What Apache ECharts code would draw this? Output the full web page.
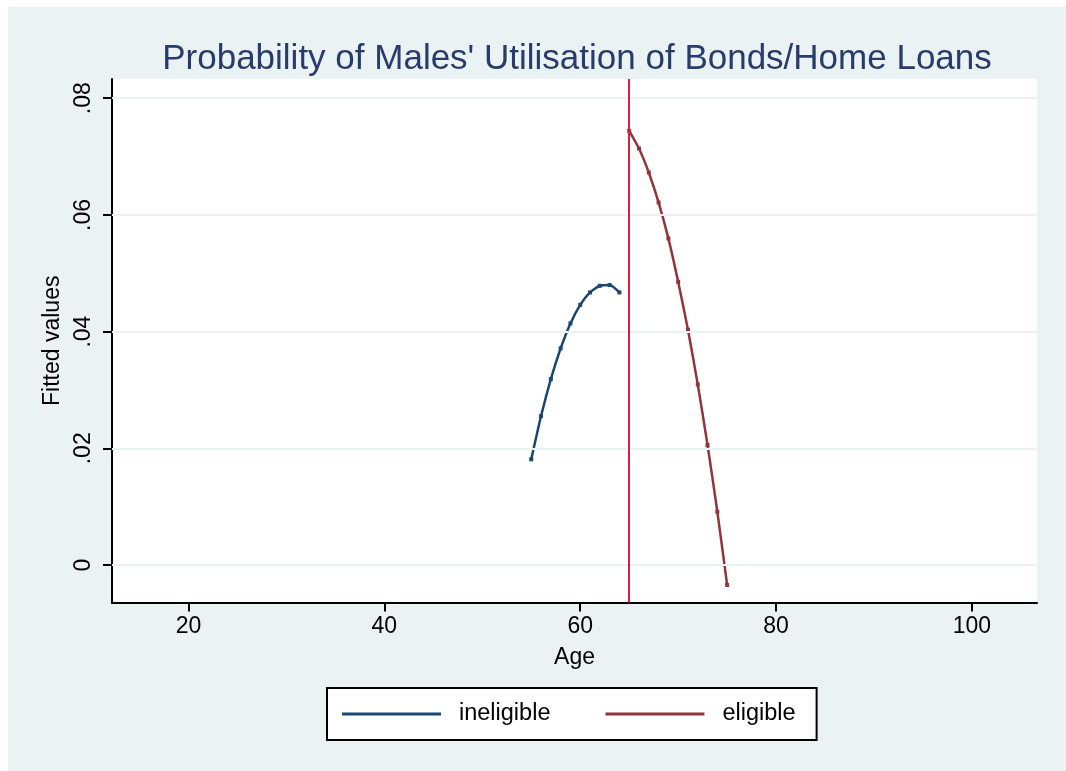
<!DOCTYPE html>
<html>
<head>
<meta charset="utf-8">
<script src="https://cdn.jsdelivr.net/npm/echarts@6/dist/echarts.min.js"></script>
<style>
html,body{margin:0;padding:0;background:#ffffff;}
#chart{width:1066px;height:771px;}
</style>
</head>
<body>
<div id="chart"></div>
<script>
const titleText = "Probability of Males' Utilisation of Bonds/Home Loans";
const ageIneligible = [55, 56, 57, 58, 59, 60, 61, 62, 63, 64];
const fitIneligible = [0.01811, 0.02552, 0.03186, 0.03712, 0.04140, 0.04459, 0.04671, 0.04785, 0.04797, 0.04671];
const ageEligible = [65, 66, 67, 68, 69, 70, 71, 72, 73, 74, 75];
const fitEligible = [0.07440, 0.07138, 0.06727, 0.06213, 0.05597, 0.04853, 0.04031, 0.03095, 0.02056, 0.00913, -0.00343];
const xTicks = [20, 40, 60, 80, 100];
const yTicks = [0, 0.02, 0.04, 0.06, 0.08];
const cutoffAge = 65;
const seriesNames = ['ineligible', 'eligible'];
const xRange = [12.19, 106.64];
const yRange = [-0.00643, 0.08329];

const FONT = '"Liberation Sans", Arial, Helvetica, sans-serif';
const chart = echarts.init(document.getElementById('chart'), null, {renderer: 'canvas'});

function fmtY(v) {
  if (Math.abs(v) < 1e-12) return '0';
  return String(+v.toFixed(4)).replace(/^0\./, '.').replace(/^-0\./, '-.');
}

const option = {
  animation: false,
  backgroundColor: '#ffffff',
  graphic: [{
    type: 'rect', z: -10, silent: true,
    shape: {x: 8, y: 7, width: 1058, height: 764},
    style: {fill: '#eaf2f3'}
  }, {
    type: 'rect', z: -9, silent: true,
    shape: {x: 112, y: 79, width: 925, height: 523.5},
    style: {fill: '#ffffff'}
  }],
  title: {
    text: titleText,
    left: 572, top: 37, textAlign: 'center',
    textStyle: {color: '#283c6b', fontFamily: FONT, fontSize: 35, fontWeight: 'normal'}
  },
  legend: {
    data: seriesNames,
    left: 327, top: 688,
    orient: 'horizontal',
    backgroundColor: '#ffffff',
    borderColor: '#000000', borderWidth: 2, borderRadius: 0,
    padding: [14, 21, 14, 15],
    itemGap: 55,
    itemWidth: 99, itemHeight: 3,
    icon: 'rect',
    textStyle: {fontFamily: FONT, fontSize: 23.5, color: '#000000', padding: [0, 0, 0, 13]}
  },
  grid: {left: 112, right: 29, top: 79, bottom: 168.5, containLabel: false},
  xAxis: {
    type: 'value', min: xRange[0], max: xRange[1],
    name: 'Age', nameLocation: 'middle', nameGap: 44,
    nameTextStyle: {fontFamily: FONT, fontSize: 23, color: '#000000'},
    axisLine: {show: true, onZero: false, lineStyle: {color: '#000000', width: 2}},
    axisTick: {show: true, customValues: xTicks, length: 9, lineStyle: {color: '#000000', width: 2}},
    axisLabel: {customValues: xTicks, margin: 13, fontFamily: FONT, fontSize: 23, color: '#000000'},
    splitLine: {show: false}
  },
  yAxis: {
    type: 'value', min: yRange[0], max: yRange[1],
    name: 'Fitted values', nameLocation: 'middle', nameGap: 48, nameRotate: 90,
    nameTextStyle: {fontFamily: FONT, fontSize: 23, color: '#000000'},
    axisLine: {show: true, onZero: false, lineStyle: {color: '#000000', width: 2}},
    axisTick: {show: true, customValues: yTicks, length: 9, lineStyle: {color: '#000000', width: 2}},
    axisLabel: {customValues: yTicks, rotate: 90, margin: 17, fontFamily: FONT, fontSize: 23, color: '#000000', formatter: fmtY},
    splitLine: {show: false}
  },
  series: [{
    name: '_grid', type: 'line', data: [], silent: true, z: 1,
    markLine: {
      silent: true, symbol: 'none', animation: false,
      label: {show: false},
      lineStyle: {color: '#eaf2f3', width: 2, type: 'solid'},
      data: yTicks.map(v => ({yAxis: v}))
    }
  }, {
    name: seriesNames[0], type: 'line', z: 3,
    data: ageIneligible.map((a, i) => [a, fitIneligible[i]]),
    smooth: 0.2,
    symbol: 'rect', symbolSize: 4, showSymbol: true,
    color: '#1a476f',
    itemStyle: {color: '#1a476f'},
    lineStyle: {color: '#1a476f', width: 2.5}
  }, {
    name: seriesNames[1], type: 'line', z: 3,
    data: ageEligible.map((a, i) => [a, fitEligible[i]]),
    smooth: 0.2,
    symbol: 'rect', symbolSize: 4, showSymbol: true,
    color: '#90353b',
    itemStyle: {color: '#90353b'},
    lineStyle: {color: '#90353b', width: 2.5},
    markLine: {
      silent: true, symbol: 'none', animation: false,
      label: {show: false},
      lineStyle: {color: '#d42341', width: 2, type: 'solid'},
      data: [{xAxis: cutoffAge}]
    }
  }]
};
chart.setOption(option);
</script>
</body>
</html>
